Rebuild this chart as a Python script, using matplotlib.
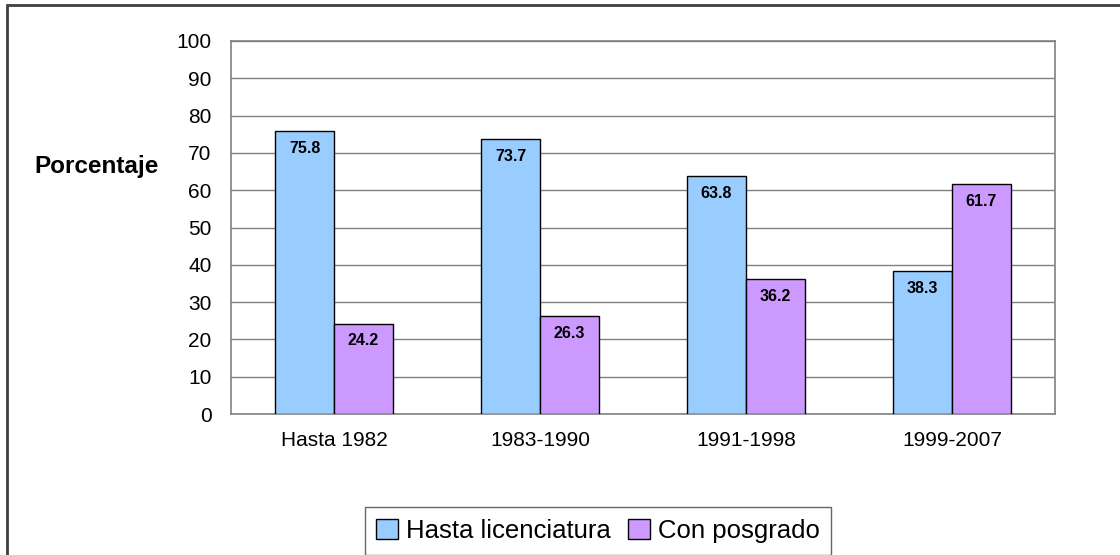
import matplotlib
matplotlib.use("Agg")
import matplotlib.pyplot as plt
import numpy as np
from matplotlib.patches import Rectangle

plt.rcParams['font.family'] = ['Liberation Sans', 'DejaVu Sans']

categories = ['Hasta 1982', '1983-1990', '1991-1998', '1999-2007']
licenciatura = [75.8, 73.7, 63.8, 38.3]
posgrado = [24.2, 26.3, 36.2, 61.7]
series_names = ['Hasta licenciatura', 'Con posgrado']
colors = ['#99CCFF', '#CC99FF']

fig = plt.figure(figsize=(11.2, 5.55), dpi=100)
ax = fig.add_axes([231 / 1120, 1 - 414 / 555, 824 / 1120, 373 / 555])

x = np.arange(len(categories))
w = 0.286
b1 = ax.bar(x - w / 2, licenciatura, w, color=colors[0], edgecolor='black', linewidth=1, label=series_names[0], zorder=3)
b2 = ax.bar(x + w / 2, posgrado, w, color=colors[1], edgecolor='black', linewidth=1, label=series_names[1], zorder=3)

for bars, vals in ((b1, licenciatura), (b2, posgrado)):
    for rect, v in zip(bars, vals):
        ax.annotate(f'{v:.1f}', (rect.get_x() + rect.get_width() / 2, v),
                    xytext=(0, -7), textcoords='offset points',
                    ha='center', va='top', fontsize=11.5, fontweight='bold', zorder=4)

ax.set_xlim(-0.5, len(categories) - 0.5)
ax.set_ylim(0, 100)
ax.set_yticks(range(0, 101, 10))
ax.set_xticks(x)
ax.set_xticklabels(categories)
ax.tick_params(axis='both', length=0, labelsize=15)
ax.tick_params(axis='x', pad=12)
ax.tick_params(axis='y', pad=14)
ax.yaxis.grid(True, color='#808080', linewidth=1, zorder=0)
for s in ax.spines.values():
    s.set_color('#808080')
    s.set_linewidth(1.2)

fig.text(97 / 1120, 1 - 167 / 555, 'Porcentaje', ha='center', va='center', fontsize=17.5, fontweight='bold')

leg = fig.legend(handles=[b1, b2], labels=series_names, loc='center', bbox_to_anchor=(598 / 1120, 1 - 531 / 555),
                 ncol=2, fontsize=18.5, frameon=True, fancybox=False, edgecolor='#404040',
                 handlelength=0.85, handleheight=0.8, handletextpad=0.3, columnspacing=0.7, borderpad=0.45)
leg.get_frame().set_linewidth(1)

fig.patches.append(Rectangle((7 / 1120, -0.1), 1.2, 1.1 - 5 / 555, transform=fig.transFigure,
                             fill=False, edgecolor='#404040', linewidth=2))

fig.savefig('out.png', dpi=100)
